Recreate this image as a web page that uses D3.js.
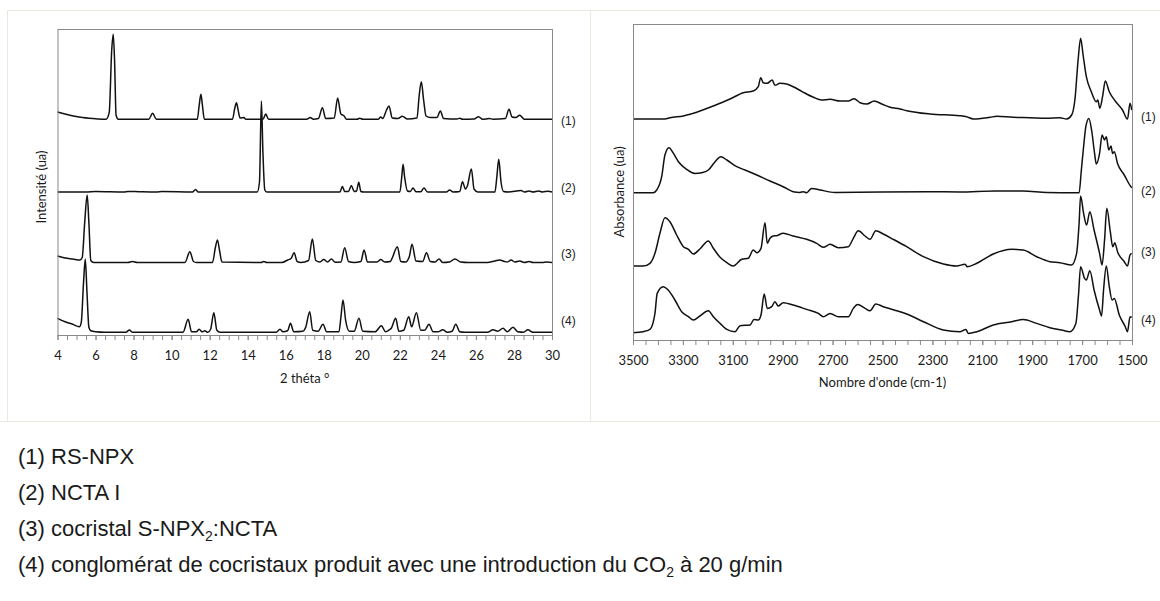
<!DOCTYPE html>
<html>
<head>
<meta charset="utf-8">
<script src="https://cdn.jsdelivr.net/npm/d3@7/dist/d3.min.js"></script>
<style>
  html, body { margin: 0; padding: 0; background: #fff; }
  svg { display: block; }
</style>
</head>
<body>
<svg id="fig" width="1160" height="601"></svg>
<script>
// ---- Diffractogrammes RX (2θ, intensité relative, u.a.) ----
const traceNames = ["(1)", "(2)", "(3)", "(4)"];
const xrdOffset = [215.7, 143, 72.5, 2.7];
const xrdTicks = [4, 6, 8, 10, 12, 14, 16, 18, 20, 22, 24, 26, 28, 30];

const xrd1 = [[4.0,7.3],[4.5,4.8],[5.2,2],[6.0,0.6],[6.55,0],[6.72,7],[6.85,69],[6.93,85],[7.0,59],[7.08,4],[7.2,0],
  [8.8,0],[9.0,6],[9.2,0],[11.35,0],[11.45,14],[11.54,25],[11.62,14],[11.72,0],[13.2,0],[13.32,11],[13.41,16.6],
  [13.5,9],[13.6,1.3],[13.8,1.8],[13.9,0],[14.8,0],[14.95,5.3],[15.1,0],[17.1,0],[17.29,1.8],[17.45,0],[17.72,0.8],
  [17.93,11.6],[18.1,0.8],[18.55,1.3],[18.73,21.3],[18.9,5.3],[19.06,3.6],[19.2,0],[19.75,0],[19.89,1.1],[20.05,0],
  [20.85,0],[21.0,2.3],[21.1,0.8],[21.3,9.3],[21.43,13.3],[21.6,1.3],[21.9,0.8],[22.13,3],[22.4,0.3],[22.9,1.3],
  [23.02,24.3],[23.13,37.6],[23.25,19.3],[23.38,3.3],[23.6,1.8],[23.95,1.8],[24.13,8.3],[24.3,0.8],[25.0,0.3],
  [25.15,1.1],[25.3,0],[25.9,0.3],[26.14,2.6],[26.35,0],[26.7,0.8],[26.9,0],[27.55,0.8],[27.74,10],[27.9,2.3],
  [28.1,1.8],[28.3,4],[28.55,0],[30,0]];

const xrd2 = [[4.0,0],[5.5,0],[6.0,0.5],[7.5,0],[7.7,0.6],[8.3,0.3],[9.2,0],[9.5,0.4],[11.1,0],[11.26,2.5],[11.4,0],
  [14.5,0],[14.62,10],[14.72,91],[14.8,40],[14.9,2],[15.0,0],[16.5,0],[18.85,0],[18.98,5.5],[19.1,0.5],[19.3,0.5],
  [19.45,6.5],[19.6,0.5],[19.72,1],[19.84,9.7],[19.95,0.5],[20.1,0],[22.0,0],[22.1,15],[22.17,27.7],[22.25,15],
  [22.4,1],[22.55,0.5],[22.69,4],[22.85,0.3],[23.1,0.3],[23.27,4],[23.45,0],[24.45,0],[24.62,2],[24.8,0],[25.15,0.5],
  [25.29,10.3],[25.45,3],[25.55,6],[25.76,23],[25.9,3],[26.1,0],[27.0,0],[27.1,15],[27.2,32.7],[27.32,10],[27.45,0.5],
  [27.7,0],[28.38,1.5],[28.55,0],[28.8,1],[29.0,0],[29.3,1],[29.5,0],[29.8,0.8],[30,0]];

const xrd3 = [[4.0,6.5],[4.4,4.5],[4.8,3.5],[5.18,2.5],[5.3,5],[5.43,40],[5.56,67.5],[5.65,40],[5.75,2],[5.9,0],
  [7.7,0],[7.94,1],[8.2,0],[10.7,0],[10.96,10.8],[11.15,1],[11.3,0],[12.15,0],[12.3,15],[12.41,22.5],[12.52,12],
  [12.65,0.5],[14.7,0],[14.85,1],[15.0,0],[15.8,0],[16.1,2.5],[16.28,4],[16.44,9.8],[16.6,1],[16.8,0],[17.2,2],
  [17.4,23.5],[17.58,2],[17.8,0.5],[18.0,3],[18.2,0.5],[18.4,3.5],[18.6,0.3],[18.9,0.5],[19.1,14.8],[19.3,1],
  [19.6,0],[19.95,1],[20.12,12.5],[20.3,0.5],[20.8,0.5],[21.0,3],[21.2,0.5],[21.5,1],[21.6,4.5],[21.87,15.8],
  [22.05,1],[22.3,0.5],[22.5,6],[22.64,18.2],[22.85,1.5],[23.2,1],[23.4,9.8],[23.6,1],[23.85,0.5],[24.06,3.5],
  [24.25,0],[24.6,0.5],[24.9,3.5],[25.2,0.5],[25.6,0],[26.6,0],[27.0,1.5],[27.25,2.5],[27.5,1],[27.65,0.5],
  [27.85,2.5],[28.05,0.5],[28.3,1.5],[28.55,0],[28.8,1],[29.0,0],[29.5,0],[29.7,0.5],[30,0]];

const xrd4 = [[4.0,14],[4.4,10.5],[4.8,8],[5.15,5.6],[5.25,10],[5.37,50],[5.46,73.3],[5.55,40],[5.65,5],[5.75,1.5],
  [6.0,0.5],[6.5,0],[7.6,0],[7.78,2.3],[7.95,0],[10.6,0],[10.87,13],[11.05,0.5],[11.3,0.5],[11.45,3],[11.6,0.5],
  [11.75,1.5],[11.9,0],[12.05,3],[12.22,19.6],[12.38,2],[12.55,0],[15.5,0],[15.7,3],[15.85,0.5],[16.1,1.5],
  [16.25,9],[16.42,0.5],[16.9,1],[17.05,5],[17.26,20.6],[17.42,2],[17.7,1],[17.96,8],[18.15,0.5],[18.8,0.5],
  [18.9,15],[19.01,32.3],[19.15,12],[19.35,1],[19.6,1],[19.85,14],[20.05,1],[20.7,0.5],[21.03,6.6],[21.25,0.5],
  [21.4,2],[21.55,4],[21.78,14],[21.95,1],[22.2,2],[22.47,15.6],[22.62,5.5],[22.87,19.6],[23.1,2],[23.3,2],
  [23.53,8],[23.75,0.5],[24.0,0.5],[24.26,2.5],[24.5,0],[24.75,1],[24.94,8],[25.15,0.5],[25.4,0],[26.6,0],
  [26.9,2.5],[27.15,1],[27.42,4],[27.65,0.5],[27.95,5],[28.2,0.5],[28.5,0],[28.73,2.5],[29.0,0],[30,0]];

// ---- Spectres IR (nombre d'onde cm-1, absorbance relative, u.a.) ----
const irOffset = [221, 147.3, 74, 8.3];
const irTicks = [3500, 3300, 3100, 2900, 2700, 2500, 2300, 2100, 1900, 1700, 1500];

const ir1 = [[3500,0],[3372,0],[3352,1.3],[3298,3],[3245,6.7],[3178,13],[3111,20],[3058,26.3],[3018,28],[2998,32.3],
  [2988,41.3],[2978,36.3],[2962,35.7],[2942,39],[2931,33.7],[2911,35.7],[2884,35],[2858,32.3],[2824,27.7],[2777,21.7],
  [2744,19],[2710,19.7],[2670,18],[2637,18],[2614,20.3],[2590,16.3],[2563,15],[2533,18],[2503,15],[2470,11.7],
  [2430,10],[2403,8.3],[2310,5],[2190,3.3],[2163,2.3],[2136,0],[2069,1.7],[2042,2.7],[1976,1.7],[1909,1.3],
  [1842,0.7],[1789,1.3],[1762,0],[1742,4],[1729,19],[1716,59],[1706,80.7],[1696,64],[1683,42.3],[1663,27.3],
  [1643,17.3],[1637,19],[1629,10.7],[1618,22.3],[1607,38],[1591,27.3],[1565,17.3],[1538,9],[1518,0],[1508,15.7],
  [1501,9]];

const ir2 = [[3500,0],[3419,0],[3405,2.7],[3385,16],[3372,37.7],[3356,45],[3338,39.3],[3318,31],[3285,23.3],[3252,19.3],
  [3225,20],[3198,22.7],[3171,31],[3148,36],[3124,32.7],[3084,26],[3051,22.7],[3004,17.7],[2951,11.7],[2898,6],
  [2858,1],[2831,0.3],[2817,1],[2804,0],[2784,4.3],[2750,2.7],[2690,0.3],[2318,1],[2190,0.7],[2049,1.7],[1937,1.7],
  [1842,0.3],[1729,0],[1712,0],[1703,22.7],[1694,46],[1685,66],[1673,74.3],[1662,62.7],[1650,39.3],[1643,28.7],
  [1630,39.3],[1620,57.7],[1610,52.7],[1603,56],[1593,42.7],[1584,46.7],[1578,39.3],[1571,41],[1558,29.3],
  [1531,17.7],[1504,6],[1500,5]];

const ir3 = [[3500,0],[3459,0],[3432,2.7],[3412,12.7],[3392,32.7],[3372,48.3],[3352,44.3],[3325,31],[3298,19.3],
  [3278,16.7],[3258,12],[3232,17],[3198,25],[3178,17.7],[3151,8.7],[3124,3.3],[3098,0],[3064,6.7],[3038,7.7],
  [3018,16],[3004,13.3],[2987,17.7],[2971,43.3],[2962,22.7],[2951,27.7],[2938,30],[2924,30.3],[2898,32.7],
  [2858,30],[2804,26.7],[2764,22.7],[2737,18.7],[2710,21.7],[2677,18.3],[2637,19.3],[2617,27.7],[2597,35.3],
  [2570,30],[2550,26.7],[2527,35.3],[2497,32],[2457,26.7],[2403,19.3],[2336,9.3],[2256,2],[2203,0],[2169,1.7],
  [2160,-0.7],[2122,2.7],[2056,12],[1982,16.7],[1936,16],[1882,9.3],[1829,4.3],[1789,3.3],[1742,1],[1722,12.7],
  [1712,42.7],[1706,70],[1694,52.7],[1682,41],[1669,54.3],[1652,36],[1630,12.7],[1620,1],[1610,26],[1601,57.7],
  [1587,34.3],[1577,19.3],[1569,23.3],[1558,14.3],[1531,4.3],[1518,0],[1508,11],[1501,12.7]];

const ir4 = [[3500,-1],[3459,0],[3432,2.3],[3412,18.3],[3403,38.3],[3379,45],[3359,41.7],[3332,31.7],[3305,20],
  [3278,15],[3258,11.7],[3232,15.7],[3198,21],[3178,15],[3151,8.3],[3124,2.3],[3091,0],[3071,6],[3031,6.7],
  [3015,12.3],[2998,11.7],[2987,16.7],[2974,37.7],[2962,23.3],[2944,25],[2931,30],[2918,25.7],[2898,29],
  [2858,26.7],[2804,22.3],[2757,18.3],[2737,15],[2710,18.3],[2677,15],[2637,15],[2617,23.3],[2600,27.3],
  [2570,23.3],[2550,21],[2527,27.7],[2497,25],[2457,22],[2403,17.7],[2336,10],[2256,1.7],[2190,0],[2166,2.3],
  [2156,-1.7],[2122,0],[2056,6.7],[1982,10],[1936,12.3],[1882,8.3],[1829,4],[1782,1.7],[1749,0],[1725,8.3],
  [1714,38.3],[1706,65],[1690,53.3],[1683,51.7],[1669,61],[1652,41.7],[1630,21.7],[1622,15.7],[1614,41.7],
  [1603,65.7],[1591,45],[1580,31.7],[1571,33.3],[1551,16.7],[1527,5],[1518,0],[1508,15],[1501,14.3]];

// ---- Légende ----
const legendLines = [
  [{ t: "(1) RS-NPX" }],
  [{ t: "(2) NCTA I" }],
  [{ t: "(3) cocristal S-NPX" }, { t: "2", sub: true }, { t: ":NCTA" }],
  [{ t: "(4) conglomérat de cocristaux produit avec une introduction du CO" }, { t: "2", sub: true }, { t: " à 20 g/min" }]
];

// ---------------------------------------------------------------
const svg = d3.select("#fig");
const chartFont = "Lato, 'DejaVu Sans', sans-serif";
const frameColor = "#8a8a8a";
const cellColor = "#e9e9dd";

// cell borders of the figure table
const cells = svg.append("g").attr("fill", "none").attr("stroke", cellColor).attr("stroke-width", 1);
cells.append("path").attr("d", "M7.5,421.5 V10.5 H1160");
cells.append("path").attr("d", "M590.5,10.5 V421.5");
cells.append("path").attr("d", "M0,421.5 H1160");

function panel(cfg) {
  const g = svg.append("g");
  const x = d3.scaleLinear().domain(cfg.xDomain).range([cfg.left, cfg.right]);
  const y = d3.scaleLinear().domain(cfg.yDomain).range([cfg.bottom, cfg.top]);

  // minor ticks
  g.append("g")
    .attr("transform", `translate(0,${cfg.bottom})`)
    .call(d3.axisBottom(x).tickValues(cfg.minor).tickSize(5).tickSizeOuter(0).tickFormat(""))
    .call(a => a.select(".domain").remove())
    .call(a => a.selectAll("line").attr("stroke", frameColor));

  // major ticks + labels
  g.append("g")
    .attr("transform", `translate(0,${cfg.bottom})`)
    .call(d3.axisBottom(x).tickValues(cfg.ticks).tickSize(5).tickSizeOuter(0).tickPadding(11).tickFormat(d3.format("d")))
    .call(a => a.select(".domain").remove())
    .call(a => a.selectAll("line").attr("stroke", frameColor))
    .call(a => a.selectAll("text").attr("font-family", chartFont).attr("font-size", 13).attr("fill", "#1a1a1a"));

  // traces
  const line = d3.line()
    .x(d => x(d[0]))
    .curve(d3.curveMonotoneX);
  cfg.series.forEach((s, i) => {
    g.append("path")
      .datum(s)
      .attr("fill", "none")
      .attr("stroke", "#111")
      .attr("stroke-width", 1.5)
      .attr("stroke-linejoin", "round")
      .attr("d", line.y(d => y(d[1] + cfg.offset[i])));
  });

  // plot frame
  g.append("rect")
    .attr("x", cfg.left + 0.5).attr("y", cfg.top + 0.5)
    .attr("width", cfg.right - cfg.left).attr("height", cfg.bottom - cfg.top)
    .attr("fill", "none").attr("stroke", frameColor).attr("stroke-width", 1);

  // trace labels at the right side
  traceNames.forEach((n, i) => {
    g.append("text")
      .attr("x", cfg.right + cfg.labelDx)
      .attr("y", cfg.labelY[i])
      .attr("dy", "0.35em")
      .attr("font-family", "'Liberation Sans', Arial, sans-serif")
      .attr("font-size", 12)
      .attr("fill", "#1a1a1a")
      .text(n);
  });

  // axis titles
  g.append("text")
    .attr("x", (cfg.left + cfg.right) / 2).attr("y", cfg.xTitleY)
    .attr("text-anchor", "middle").attr("dy", "0.35em")
    .attr("font-family", chartFont).attr("font-size", 13).attr("fill", "#1a1a1a")
    .text(cfg.xTitle);
  g.append("text")
    .attr("transform", `translate(${cfg.yTitleX},${cfg.yTitleY}) rotate(-90)`)
    .attr("text-anchor", "middle").attr("dy", "0.35em")
    .attr("font-family", chartFont).attr("font-size", 13).attr("fill", "#1a1a1a")
    .text(cfg.yTitle);
}

panel({
  xDomain: [4, 30], yDomain: [0, 306],
  left: 57.5, right: 552, top: 29, bottom: 335,
  ticks: xrdTicks, minor: d3.range(4, 30.001, 0.5),
  series: [xrd1, xrd2, xrd3, xrd4], offset: xrdOffset,
  labelDx: 9, labelY: [121, 188, 254, 321],
  xTitle: "2 théta °", xTitleY: 378,
  yTitle: "Intensité (ua)", yTitleX: 41, yTitleY: 187
});

panel({
  xDomain: [3500, 1500], yDomain: [0, 316],
  left: 633, right: 1132, top: 24, bottom: 340,
  ticks: irTicks, minor: d3.range(3500, 1499, -50),
  series: [ir1, ir2, ir3, ir4], offset: irOffset,
  labelDx: 9, labelY: [117, 191, 252, 320],
  xTitle: "Nombre d'onde (cm-1)", xTitleY: 382,
  yTitle: "Absorbance (ua)", yTitleX: 619, yTitleY: 192
});

// legend below the figure
const leg = svg.append("g")
  .attr("font-family", "'Liberation Sans', Arial, sans-serif")
  .attr("font-size", 22)
  .attr("fill", "#1a1a1a");
legendLines.forEach((parts, i) => {
  const t = leg.append("text").attr("x", 18).attr("y", 464 + i * 36);
  parts.forEach((p, k) => {
    const ts = t.append("tspan").text(p.t);
    if (p.sub) ts.attr("font-size", 14).attr("dy", 5);
    else if (k > 0) ts.attr("dy", -5);
  });
});
</script>
</body>
</html>
